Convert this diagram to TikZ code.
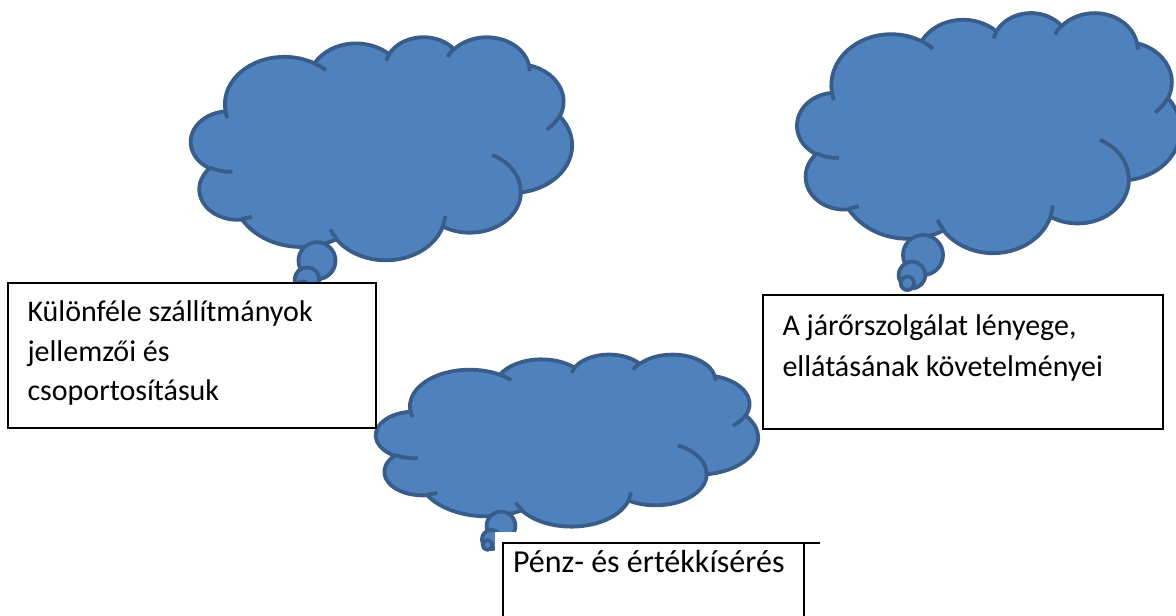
\documentclass[tikz,border=0pt]{standalone}
\usepackage{fontspec}
\setmainfont{Carlito}
\usepackage{xfp}
\definecolor{cloudfill}{HTML}{4F81BD}
\definecolor{cloudline}{HTML}{385D8A}
% DrawingML arcTo (visual angles, 1/60000 deg) -> TikZ parametric arc
\newcommand\ooang[3]{atand((#1)*sind(#3),(#2)*cosd(#3))}
\newcommand\ooarc[4]{arc[start angle=\fpeval{round(\ooang{#1}{#2}{(#3)/60000},4)}, delta angle=\fpeval{round((\ooang{#1}{#2}{((#3)+(#4))/60000}-\ooang{#1}{#2}{(#3)/60000})-360*floor((\ooang{#1}{#2}{((#3)+(#4))/60000}-\ooang{#1}{#2}{(#3)/60000})/360),4)}, x radius=\fpeval{(#1)/100}, y radius=\fpeval{(#2)/100}] }
\edef\cloudpath{(39.00,143.70)
 \ooarc{6753}{9190}{-11429249}{7426832}
 \ooarc{5333}{7267}{-8646143}{5396714}
 \ooarc{4365}{5945}{-8748475}{5983381}
 \ooarc{4857}{6595}{-7859164}{7034504}
 \ooarc{5333}{7273}{-4722533}{6541615}
 \ooarc{6775}{9220}{-2776035}{7816140}
 \ooarc{5785}{7867}{37501}{6842000}
 \ooarc{6752}{9215}{1347096}{6910353}
 \ooarc{7720}{10543}{3974558}{4542661}
 \ooarc{4360}{5918}{-16496525}{8804134}
 \ooarc{4345}{5945}{-14809710}{9151131} -- cycle}
\edef\cloudinner{%
 (46.93,261.77) \ooarc{4345}{5945}{5204520}{1585770}
 (69.28,348.99) \ooarc{4360}{5918}{4416628}{686848}
 (164.78,390.90) \ooarc{6752}{9215}{8257449}{844866}
 (288.27,347.51) \ooarc{6752}{9215}{387196}{959901}
 (341.29,229.54) \ooarc{5785}{7867}{-4217541}{4255042}
 (417.98,153.54) \ooarc{5333}{7273}{1819082}{1665090}
 (383.24,54.26) \ooarc{4857}{6595}{-824660}{891534}
 (290.78,39.52) \ooarc{4857}{6595}{-8950887}{1091722}
 (221.41,47.20) \ooarc{4365}{5945}{-9809656}{1061181}
 (140.00,51.92) \ooarc{6753}{9190}{-4002417}{739161}
 (41.27,157.89) \ooarc{6753}{9190}{9459261}{711490}}
\tikzset{
  cloud/.style={fill=cloudfill, draw=cloudline, line width=3.8pt, line join=round},
  cloudarc/.style={draw=cloudline, line width=3.8pt},
  box/.style={draw=black, fill=white, rectangle, inner sep=0pt, outer sep=0pt},
  txt/.style={inner sep=0pt, outer sep=0pt, anchor=base west, align=flush left, text=black}
}
\begin{document}
\begin{tikzpicture}[x=1pt, y=1pt, yscale=-1]
\path[use as bounding box, fill=white] (0,0) rectangle (1176,616);
% cloud 1
\begin{scope}[shift={(191,36.5)}, xscale=381/432, yscale=223/432]
  \path[cloud] \cloudpath;
  \path[cloudarc] \cloudinner;
\end{scope}
\filldraw[cloud] (317,260.7) circle[radius=18.5];
\filldraw[cloud] (307,279.6) circle[radius=12.3];
\filldraw[cloud] (302.7,287.6) circle[radius=6.2];
% cloud 2
\begin{scope}[shift={(797.3,12.3)}, xscale=383/432, yscale=240/432]
  \path[cloud] \cloudpath;
  \path[cloudarc] \cloudinner;
\end{scope}
\filldraw[cloud] (923,255) circle[radius=20];
\filldraw[cloud] (912,275) circle[radius=13.3];
\filldraw[cloud] (907.4,283.3) circle[radius=6.7];
% cloud 3
\begin{scope}[shift={(376,354)}, xscale=382/432, yscale=172/432]
  \path[cloud] \cloudpath;
  \path[cloudarc] \cloudinner;
\end{scope}
\filldraw[cloud] (501,526) circle[radius=14.4];
\filldraw[cloud] (491.5,539.5) circle[radius=9.6];
\filldraw[cloud] (487.5,545) circle[radius=4.8];
% white area behind the third box
\fill[white] (495,532) rectangle (820,620);
% boxes
\node[box, line width=1.3pt, minimum width=368pt, minimum height=145pt, anchor=north west] (b1) at (8,283) {};
\node[box, line width=1.3pt, minimum width=400pt, minimum height=134pt, anchor=north west] (b2) at (763,295) {};
\node[box, line width=2pt, minimum width=301pt, minimum height=110pt, anchor=north west] (b3) at (503,543) {};
\coordinate (b3ext) at (820,543);
\draw[line width=2pt] (b3.north east) -- (b3ext);
% texts
\node[txt, text width=345pt, font=\fontsize{30pt}{39.3pt}\selectfont] (t1) at (27.5,321.7)
  {Különféle szállítmányok\\jellemzői és\\csoportosításuk};
\node[txt, text width=375pt, font=\fontsize{30pt}{41.7pt}\selectfont] (t2) at (782.5,335)
  {A járőrszolgálat lényege,\\ellátásának követelményei};
\node[txt, text width=290pt, font=\fontsize{32pt}{40pt}\selectfont] (t3) at (513,572.7)
  {Pénz- és értékkísérés};
\end{tikzpicture}
\end{document}
